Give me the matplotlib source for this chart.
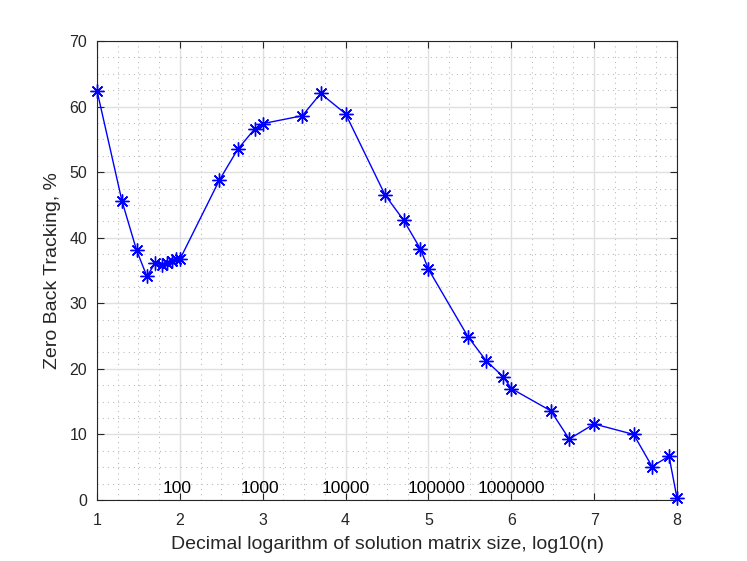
import numpy as np
import matplotlib.pyplot as plt
from matplotlib.ticker import MultipleLocator

# --------------
# Data
# --------------
matrix_size = [10, 20, 30, 40, 50, 60, 70, 80, 90, 100,
               300, 500, 800, 1000, 3000, 5000, 10000,
               30000, 50000, 80000, 100000, 300000, 500000, 800000, 1000000,
               3000000, 5000000, 10000000, 30000000, 50000000, 80000000, 100000000]
zero_bt = [62.4, 45.6, 38.1, 34.1, 36.1, 35.9, 36.1, 36.5, 36.8, 36.7,
           48.8, 53.5, 56.6, 57.4, 58.6, 62.0, 58.9,
           46.5, 42.7, 38.3, 35.2, 24.9, 21.2, 18.8, 17.0,
           13.6, 9.3, 11.6, 10.0, 5.1, 6.7, 0.3]

size_labels = ["100", "1000", "10000", "100000", "1000000"]
label_x = [1.97, 2.97, 4.0, 5.1, 6.0]
label_y = 1.8

x = np.log10(matrix_size)

# --------------
# Plot
# --------------
plt.rcParams['font.family'] = ['Liberation Sans', 'DejaVu Sans']
dark = '#262626'

fig = plt.figure(figsize=(7.47, 5.61), dpi=100)
ax = fig.add_axes([0.1299, 0.1087, 0.7764, 0.8182])

ax.plot(x, zero_bt, color='blue', linewidth=1.0,
        marker=(8, 2, 0), markersize=10, markeredgewidth=1.0, clip_on=False,
        zorder=3)

for s, lx in zip(size_labels, label_x):
    ax.text(lx, label_y, s, ha='center', va='center', fontsize=12.5, color='black')

ax.set_xlim(1, 8)
ax.set_ylim(0, 70)
ax.xaxis.set_major_locator(MultipleLocator(1))
ax.xaxis.set_minor_locator(MultipleLocator(0.25))
ax.yaxis.set_major_locator(MultipleLocator(10))
ax.yaxis.set_minor_locator(MultipleLocator(2.5))

ax.grid(which='major', color='#e0e0e0', linewidth=1.0, linestyle='-')
ax.grid(which='minor', color='#b8b8b8', linewidth=0.75, linestyle=(0, (1, 4)))
ax.set_axisbelow(True)

ax.tick_params(which='major', direction='in', length=5, width=0.8,
               top=True, right=True, labelsize=11.5, colors=dark)
ax.tick_params(axis='x', which='major', pad=9)
ax.tick_params(axis='y', which='major', pad=7)
ax.tick_params(which='minor', length=0, top=True, right=True)
for sp in ax.spines.values():
    sp.set_color(dark)
    sp.set_linewidth(0.8)

ax.set_xlabel("Decimal logarithm of solution matrix size, log10(n)",
              fontsize=14, color=dark, labelpad=6)
ax.set_ylabel("Zero Back Tracking, %", fontsize=14, color=dark, labelpad=6)

fig.savefig("out.png", dpi=100)
